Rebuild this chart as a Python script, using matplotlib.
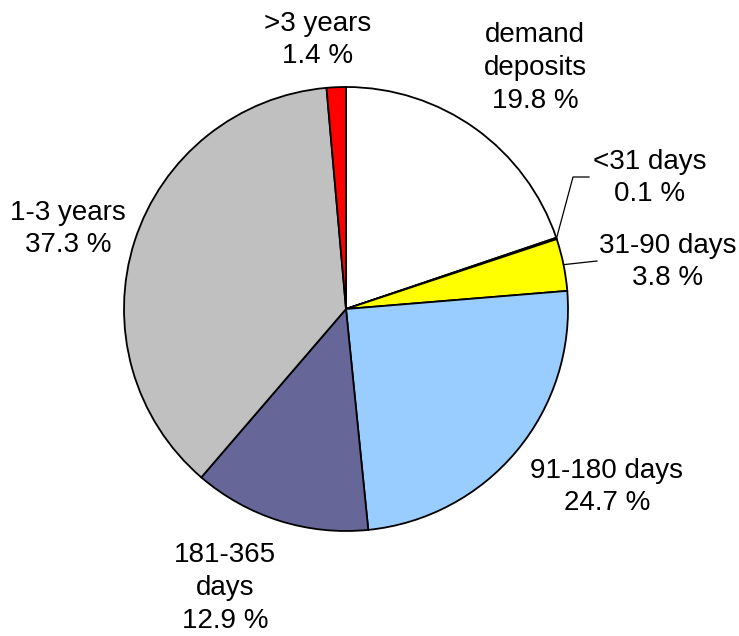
import numpy as np
import matplotlib
matplotlib.use("Agg")
import matplotlib.pyplot as plt

plt.rcParams['font.family'] = ['Liberation Sans', 'DejaVu Sans']

# data
labels = ["demand\ndeposits", "<31 days", "31-90 days", "91-180 days",
          "181-365\ndays", "1-3 years", ">3 years"]
shares = [19.8, 0.1, 3.8, 24.7, 12.9, 37.3, 1.4]
colors = ["#FFFFFF", "#993366", "#FFFF00", "#99CCFF", "#666699", "#C0C0C0", "#FF0000"]

W, H = 739, 636
cx, cy, R = 346, 309, 222   # pie centre / radius in pixels


def px(x, y):
    # pixel (top-left origin) -> data units (radius 1)
    return (x - cx) / R, (cy - y) / R


fig = plt.figure(figsize=(W / 100, H / 100), dpi=100)
ax = fig.add_axes([0, 0, 1, 1])

wedges, _ = ax.pie(shares, colors=colors, startangle=90, counterclock=False,
                   radius=1, center=(0, 0), frame=True,
                   wedgeprops=dict(edgecolor='black', linewidth=1.3))
ax.axis('off')
ax.set_xlim(-cx / R, (W - cx) / R)
ax.set_ylim(-(H - cy) / R, cy / R)

# label positions (pixel centres)
label_pos = [(535, 68), (650, 178), (668, 262), (607, 487),
             (225, 588), (68, 229), (318, 40)]

for lab, val, (lx, ly) in zip(labels, shares, label_pos):
    x, y = px(lx, ly)
    ax.text(x, y, f"{lab}\n{val:.1f} %", ha='center', va='center',
            fontsize=20, linespacing=1.33)

# leader lines for the small slices
cum = np.cumsum([0] + shares)
def edge_point(i):
    mid = 90 - (cum[i] + shares[i] / 2) * 3.6
    return np.cos(np.radians(mid)), np.sin(np.radians(mid))

ex, ey = edge_point(1)
k1 = px(573, 177)
k2 = px(589, 177)
ax.plot([ex, k1[0], k2[0]], [ey, k1[1], k2[1]], color='black', lw=0.9)

ex, ey = edge_point(2)
k1 = px(597, 261)
ax.plot([ex, k1[0]], [ey, k1[1]], color='black', lw=0.9)

fig.savefig("out.png", dpi=100)
